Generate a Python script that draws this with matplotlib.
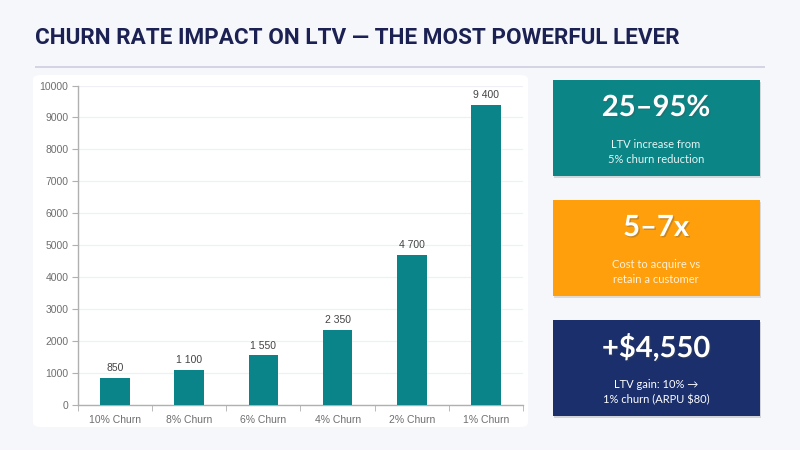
import matplotlib.pyplot as plt
import matplotlib.patheffects as pe
from matplotlib.patches import FancyBboxPatch, Rectangle

# chart data
categories = ['10% Churn', '8% Churn', '6% Churn', '4% Churn', '2% Churn', '1% Churn']
ltv = [850, 1100, 1550, 2350, 4700, 9400]
yticks = [0, 1000, 2000, 3000, 4000, 5000, 6000, 7000, 8000, 9000, 10000]

# stat cards on the right
card_values = ['25–95%', '5–7x', '+$4,550']
card_notes = ['LTV increase from\n5% churn reduction',
              'Cost to acquire vs\nretain a customer',
              'LTV gain: 10% →\n1% churn (ARPU $80)']
card_colors = ['#0b8586', '#ff9f0b', '#1a2f6b']
note_colors = ['#e6f4f4', '#fff1d8', '#ffffff']

title = 'CHURN RATE IMPACT ON LTV — THE MOST POWERFUL LEVER'

W, H = 800, 450
fig = plt.figure(figsize=(8, 4.5), dpi=100)
fig.patch.set_facecolor('#f6f7fb')
axis_font = ['Liberation Sans', 'DejaVu Sans']

def fx(px):
    return px / W

def fy(py):
    return 1 - py / H

# title + underline
fig.text(fx(35), fy(38), title, fontsize=16.2, fontweight='bold', color='#1b2152',
         family=['Roboto', 'DejaVu Sans'], va='center', ha='left')
fig.add_artist(Rectangle((fx(35), fy(68)), fx(730), 2.2 / H, transform=fig.transFigure,
                         facecolor='#d3d5e4', edgecolor='none'))

# white panel behind chart
fig.add_artist(FancyBboxPatch((fx(33), fy(427)), fx(495), 352 / H,
                              boxstyle='round,pad=0,rounding_size=0.01',
                              transform=fig.transFigure, facecolor='white', edgecolor='none',
                              zorder=-1))

ax = fig.add_axes([fx(78), fy(405), fx(445), (405 - 85.5) / H])
ax.set_facecolor('white')
x = range(len(categories))
bars = ax.bar(x, ltv, width=0.4, color='#0a8488', zorder=3)
for b, v in zip(bars, ltv):
    ax.text(b.get_x() + b.get_width() / 2, v + 150, f'{v:,}'.replace(',', ' '),
            ha='center', va='bottom', fontsize=7.5, color='#444444', family=axis_font)

ax.set_xlim(-0.5, len(categories) - 0.5)
ax.set_ylim(0, 10000)
ax.set_yticks(yticks)
ax.set_xticks(list(x))
ax.set_xticklabels(categories)
ax.set_xticks([i - 0.5 for i in range(len(categories) + 1)], minor=True)
ax.tick_params(axis='x', which='major', length=0, labelsize=7.5, labelcolor='#6e6e6e', pad=7)
ax.tick_params(axis='x', which='minor', length=4, color='#b0b0b0')
ax.tick_params(axis='y', length=4, color='#b0b0b0', labelsize=7.5, labelcolor='#6e6e6e', pad=3)
for lab in ax.get_xticklabels() + ax.get_yticklabels():
    lab.set_family(axis_font)
ax.grid(axis='y', color='#eef0f5', linewidth=0.9, zorder=0)
for s in ['top', 'right']:
    ax.spines[s].set_visible(False)
for s in ['left', 'bottom']:
    ax.spines[s].set_color('#b0b0b0')
    ax.spines[s].set_linewidth(1)

# cards
card_tops = [80, 200, 320]
for top, val, note, col, ncol in zip(card_tops, card_values, card_notes, card_colors, note_colors):
    fig.add_artist(Rectangle((fx(553), fy(top + 96)), fx(207), 96 / H, transform=fig.transFigure,
                             facecolor=col, edgecolor='none',
                             path_effects=[pe.withSimplePatchShadow(offset=(1, -1.5), alpha=0.15)]))
    fig.text(fx(656), fy(top + 28), val, fontsize=21, fontweight='bold', color='white',
             family=['Lato', 'DejaVu Sans'], ha='center', va='center',
             path_effects=[pe.withSimplePatchShadow(offset=(1, -1), alpha=0.3)])
    fig.text(fx(656), fy(top + 72), note, fontsize=8, color=ncol,
             family=['Lato', 'DejaVu Sans'], ha='center', va='center', linespacing=1.45)

fig.savefig('out.png', dpi=100, facecolor=fig.get_facecolor())
